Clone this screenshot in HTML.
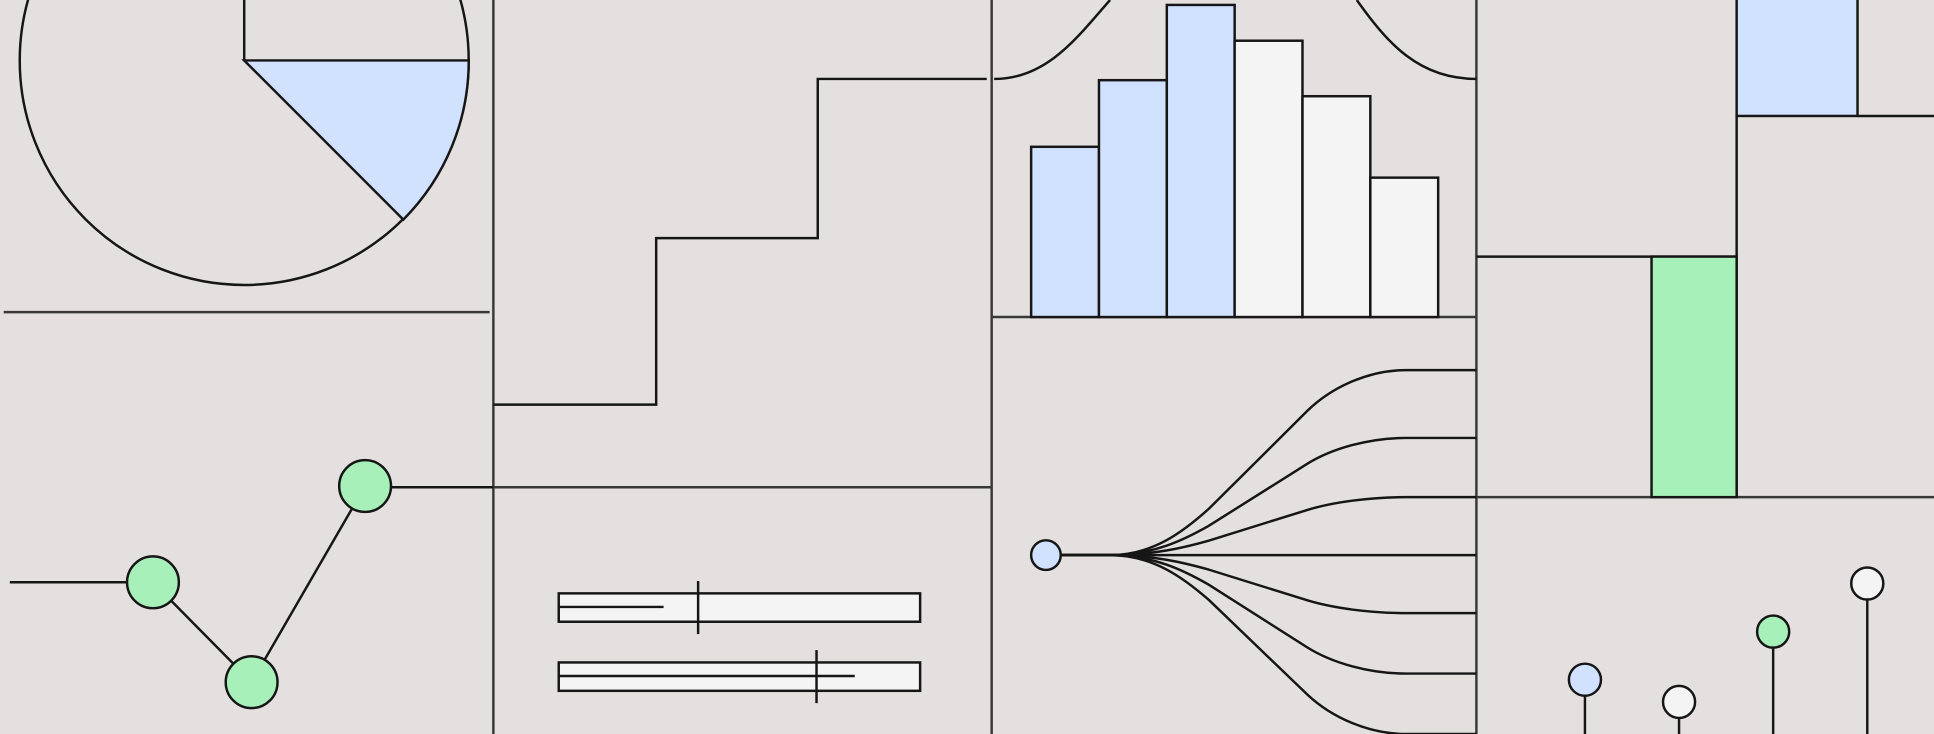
<!DOCTYPE html>
<html><head><meta charset="utf-8"><style>
html,body{margin:0;padding:0;background:#e5e0e0;overflow:hidden}
svg{display:block}
</style></head><body>
<svg id="s" width="1934" height="734" viewBox="0 0 1568 595" preserveAspectRatio="none" fill="none" stroke="#161616" stroke-width="2">
<rect x="0" y="0" width="1568" height="595" fill="#e5e0e0" stroke="none"/>
<g stroke="#393939">
<line x1="400" y1="0" x2="400" y2="595"/><line x1="804" y1="0" x2="804" y2="595"/><line x1="1197" y1="0" x2="1197" y2="595"/>
<line x1="3" y1="253" x2="397" y2="253"/><line x1="400" y1="395" x2="804" y2="395"/><line x1="804" y1="257" x2="1197" y2="257"/><line x1="1197" y1="403" x2="1568" y2="403"/>
</g>
<g>
<circle cx="198" cy="49" r="182"/>
<path d="M198,49 L380,49 A182,182 0 0 1 327,178 Z" fill="#d0e2ff"/>
<line x1="198" y1="0" x2="198" y2="49"/>
</g>
<path d="M400,328 H532 V193 H663 V64 H800"/>
<path d="M806,64 C850,64 875,28 900,0 M1100,0 C1125,35 1150,64 1197,64"/>
<g id="hist"></g>
<g>
<rect x="1408" y="-2" width="98" height="96" fill="#d0e2ff"/>
<line x1="1506" y1="94" x2="1568" y2="94"/>
<line x1="1408" y1="94" x2="1408" y2="403"/>
<line x1="1197" y1="208" x2="1408" y2="208"/>
<rect x="1339" y="208" width="69" height="195" fill="#a7f0ba"/>
</g>
<g id="line"></g>
<g>
<rect x="453" y="481" width="293" height="23" fill="#f4f4f4"/><line x1="453" y1="492" x2="538" y2="492"/><line x1="566" y1="471" x2="566" y2="514"/>
<rect x="453" y="537" width="293" height="23" fill="#f4f4f4"/><line x1="453" y1="548" x2="693" y2="548"/><line x1="662" y1="527" x2="662" y2="570"/>
</g>
<g id="tree"></g>
<g id="lolli"></g>
</svg>
<script>
const histValues=[138,192,253,224,179,113];
const histColors=["#d0e2ff","#d0e2ff","#d0e2ff","#f4f4f4","#f4f4f4","#f4f4f4"];
const lineValues=[472,553,394];
const branchEnds=[300,355,403,450,497,546,595];
const lolliValues=[44,26,83,122];
const lolliColors=["#d0e2ff","#f4f4f4","#a7f0ba","#f4f4f4"];
const NS="http://www.w3.org/2000/svg";
function mk(t,a,p){const e=document.createElementNS(NS,t);for(const k in a)e.setAttribute(k,a[k]);p.appendChild(e);return e;}
const hx=i=>836+i*55, hy=v=>257-v;
const H=document.getElementById('hist');
histValues.forEach((v,i)=>{const r=mk('rect',{x:hx(i),y:hy(v),width:55,height:v,fill:histColors[i]},H);

});
const L=document.getElementById('line');
const lx=i=>[124,204,296][i];
mk('line',{x1:8,y1:lineValues[0],x2:lx(0),y2:lineValues[0]},L);
mk('polyline',{points:lineValues.map((v,i)=>lx(i)+','+v).join(' ')},L);
mk('line',{x1:lx(2),y1:395,x2:400,y2:395},L);
lineValues.forEach((v,i)=>{const c=mk('circle',{cx:lx(i),cy:v,r:21,fill:'#a7f0ba'},L);

});
const T=document.getElementById('tree');
mk('line',{x1:860,y1:450,x2:900,y2:450},T);
branchEnds.forEach(y=>{const d=y-450,f=k=>450+d*k;
const p=mk('path',{d:`M860,450 H900 C935,450 960,${f(0.13)} 980,${f(0.25)} L1060,${f(0.78)} C1080,${f(0.91)} 1110,${y} 1140,${y} H1197`},T);

});
const tc=mk('circle',{cx:848,cy:450,r:12,fill:'#d0e2ff'},T);


const P=document.getElementById('lolli');
lolliValues.forEach((v,i)=>{const x=1285+i*76.3,y=595-v;
mk('line',{x1:x,y1:y,x2:x,y2:595},P);
const c=mk('circle',{cx:x,cy:y,r:13,fill:lolliColors[i]},P);

});
</script>
</body></html>
